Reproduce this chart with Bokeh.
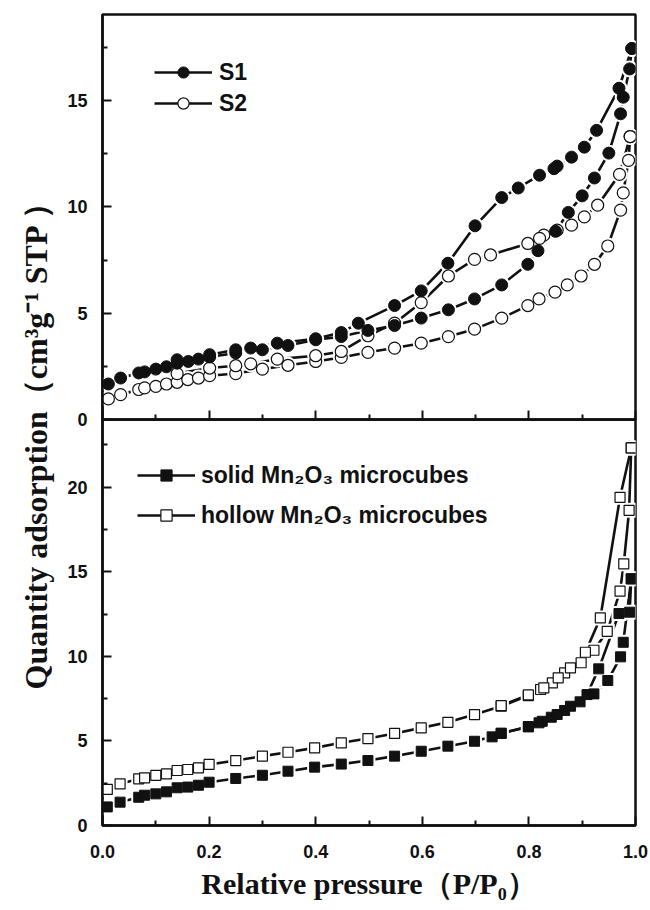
import math
from bokeh.plotting import figure
from bokeh.models import Range1d, FixedTicker, Legend, LegendItem, Label
from bokeh.layouts import row, column
from bokeh.embed import file_html
from bokeh.resources import INLINE

# ---------------- data ----------------
# Top panel: S1 (filled circles), S2 (open circles); adsorption + desorption branches
s1_ads_x = [0.011, 0.034, 0.068, 0.079, 0.100, 0.120, 0.140, 0.161, 0.180, 0.201, 0.250, 0.300, 0.348, 0.400,
            0.448, 0.498, 0.548, 0.598, 0.649, 0.698, 0.749, 0.798, 0.817, 0.850, 0.874, 0.900, 0.923, 0.950,
            0.972, 0.977, 0.989, 0.993]
s1_ads_y = [1.67, 1.95, 2.19, 2.24, 2.37, 2.48, 2.65, 2.73, 2.84, 2.94, 3.13, 3.28, 3.48, 3.75,
            3.90, 4.19, 4.42, 4.77, 5.16, 5.67, 6.33, 7.30, 7.94, 8.85, 9.74, 10.52, 11.36, 12.53,
            14.38, 15.16, 16.49, 17.45]
s1_des_x = [0.993, 0.969, 0.927, 0.904, 0.880, 0.853, 0.847, 0.820, 0.780, 0.749, 0.699, 0.648, 0.598,
            0.548, 0.480, 0.448, 0.400, 0.328, 0.278, 0.250, 0.201, 0.140]
s1_des_y = [17.45, 15.58, 13.60, 12.81, 12.34, 11.92, 11.80, 11.49, 10.89, 10.44, 9.11, 7.35, 6.05,
            5.36, 4.53, 4.09, 3.80, 3.59, 3.36, 3.28, 3.05, 2.81]

s2_ads_x = [0.011, 0.034, 0.068, 0.079, 0.100, 0.120, 0.140, 0.160, 0.180, 0.201, 0.250, 0.300, 0.348, 0.400,
            0.448, 0.498, 0.548, 0.598, 0.649, 0.698, 0.749, 0.798, 0.819, 0.849, 0.872, 0.898, 0.923, 0.948,
            0.972, 0.977, 0.987, 0.990]
s2_ads_y = [0.97, 1.17, 1.41, 1.49, 1.56, 1.67, 1.75, 1.88, 1.95, 2.06, 2.16, 2.37, 2.55, 2.73,
            2.92, 3.16, 3.36, 3.59, 3.90, 4.25, 4.77, 5.36, 5.67, 5.99, 6.33, 6.75, 7.30, 8.16,
            9.85, 10.66, 12.19, 13.31]
s2_des_x = [0.990, 0.970, 0.929, 0.904, 0.880, 0.853, 0.828, 0.820, 0.798, 0.728, 0.698, 0.649, 0.598,
            0.548, 0.498, 0.448, 0.400, 0.328, 0.278, 0.250, 0.201, 0.140]
s2_des_y = [13.31, 11.53, 10.08, 9.53, 9.14, 8.91, 8.67, 8.52, 8.28, 7.74, 7.53, 6.75, 5.50,
            4.53, 3.94, 3.20, 3.00, 2.84, 2.62, 2.53, 2.42, 2.16]

# Bottom panel: solid (filled squares) and hollow (open squares) Mn2O3 microcubes
solid_ads_x = [0.009, 0.033, 0.068, 0.079, 0.100, 0.120, 0.140, 0.160, 0.180, 0.200, 0.250, 0.300, 0.348,
               0.398, 0.448, 0.498, 0.548, 0.598, 0.648, 0.698, 0.731, 0.748, 0.799, 0.819, 0.842, 0.867,
               0.896, 0.922, 0.948, 0.972, 0.977, 0.992]
solid_ads_y = [1.10, 1.38, 1.67, 1.79, 1.87, 1.99, 2.23, 2.27, 2.38, 2.56, 2.78, 2.97, 3.21,
               3.45, 3.63, 3.84, 4.10, 4.39, 4.69, 4.98, 5.24, 5.46, 5.83, 6.07, 6.40, 6.80,
               7.31, 7.78, 8.57, 9.97, 10.83, 14.58]
solid_des_x = [0.992, 0.989, 0.969, 0.931, 0.909, 0.878, 0.853, 0.825, 0.799, 0.748]
solid_des_y = [14.58, 12.61, 12.53, 9.26, 7.74, 7.05, 6.56, 6.16, 5.85, 5.44]

hollow_ads_x = [0.009, 0.033, 0.068, 0.079, 0.100, 0.120, 0.140, 0.160, 0.180, 0.200, 0.250, 0.300, 0.348,
                0.398, 0.448, 0.498, 0.548, 0.598, 0.648, 0.698, 0.748, 0.799, 0.822, 0.844, 0.867, 0.898,
                0.922, 0.947, 0.971, 0.978, 0.988, 0.992]
hollow_ads_y = [2.13, 2.46, 2.76, 2.82, 2.96, 3.05, 3.25, 3.31, 3.41, 3.61, 3.84, 4.10, 4.33,
                4.59, 4.89, 5.14, 5.44, 5.77, 6.10, 6.56, 7.05, 7.68, 8.04, 8.43, 9.02, 9.62,
                10.36, 11.48, 13.85, 15.47, 18.63, 22.32]
hollow_des_x = [0.992, 0.971, 0.934, 0.906, 0.878, 0.855, 0.828, 0.799, 0.748]
hollow_des_y = [22.32, 19.40, 12.27, 10.24, 9.32, 8.73, 8.14, 7.72, 7.09]

x_ticks = [0.0, 0.2, 0.4, 0.6, 0.8, 1.0]
x_minor = [0.1, 0.3, 0.5, 0.7, 0.9]
top_ticks = [0, 5, 10, 15]
top_minor = [2.5, 7.5, 12.5, 17.5]
bot_ticks = [0, 5, 10, 15, 20]
bot_minor = [2.5, 7.5, 12.5, 17.5, 22.5]

# ---------------- style ----------------
INK = "#111111"
FRAME_W = 533
TOP_H = 405
BOT_H = 406
LEFT_B = 44
RIGHT_B = 14
TOP_B = 14
GAP_B = 12          # bottom border of the top figure (overlapped by the bottom figure)
BOT_B = 84
LAB_W = 58
TOTAL_H = TOP_B + TOP_H + BOT_H + BOT_B

TICK_FONT = "Liberation Sans"
SERIF = "Liberation Serif"
LW = 2.6


def style_axes(p, yticks, yminor, show_x_labels):
    p.grid.visible = False
    p.outline_line_color = INK
    p.outline_line_width = 2.5
    for ax in p.xaxis + p.yaxis:
        ax.axis_line_color = INK
        ax.axis_line_width = 2.5
        ax.major_tick_in = 9
        ax.major_tick_out = 0
        ax.minor_tick_in = 5
        ax.minor_tick_out = 0
        ax.major_tick_line_color = INK
        ax.minor_tick_line_color = INK
        ax.major_tick_line_width = 2
        ax.minor_tick_line_width = 2
        ax.major_label_text_font = TICK_FONT
        ax.major_label_text_font_style = "bold"
        ax.major_label_text_font_size = "18px"
        ax.major_label_text_color = INK
    p.xaxis.ticker = FixedTicker(ticks=x_ticks, minor_ticks=x_minor)
    p.xaxis.major_label_overrides = {0.0: "0.0", 1.0: "1.0"}
    p.yaxis.ticker = FixedTicker(ticks=yticks, minor_ticks=yminor)
    p.yaxis.major_label_standoff = 15
    if show_x_labels:
        p.xaxis.major_label_standoff = 19
    else:
        p.xaxis.major_label_text_color = None
        p.xaxis.major_label_text_alpha = 0
        p.xaxis.major_label_text_font_size = "1px"
        p.xaxis.major_label_standoff = 0


def make_legend(p, items, loc, gh, spacing, standoff):
    leg = Legend(items=items, location=loc, orientation="vertical",
                 glyph_width=58, glyph_height=gh, label_height=gh, label_standoff=standoff,
                 spacing=spacing, padding=0, margin=0,
                 label_text_font=TICK_FONT, label_text_font_style="bold",
                 label_text_font_size="23px", label_text_color=INK,
                 border_line_color=None, background_fill_alpha=0)
    p.add_layout(leg)


def series(p, xs, ys, marker, size, filled):
    """line through the points, a white halo under every symbol (gives the
    broken-line look of the original), then the symbols themselves"""
    ln = p.line(xs, ys, line_color=INK, line_width=LW)
    return ln


def halo(p, xs, ys, marker, size):
    p.scatter(xs, ys, marker=marker, size=size + 5, fill_color="white", line_color=None)


def symbols(p, xs, ys, marker, size, filled):
    if filled:
        return p.scatter(xs, ys, marker=marker, size=size, fill_color=INK, line_color=INK)
    return p.scatter(xs, ys, marker=marker, size=size, fill_color="white", line_color=INK, line_width=1.2)


# ---------------- top panel ----------------
top = figure(frame_width=FRAME_W, frame_height=TOP_H,
             x_range=Range1d(0, 1.0), y_range=Range1d(0, 19.05),
             output_backend="svg", toolbar_location=None,
             min_border_left=LEFT_B, min_border_right=RIGHT_B,
             min_border_top=TOP_B, min_border_bottom=GAP_B)
style_axes(top, top_ticks, top_minor, False)

top_sets = [(s2_ads_x, s2_ads_y, False), (s2_des_x, s2_des_y, False),
            (s1_ads_x, s1_ads_y, True), (s1_des_x, s1_des_y, True)]
top_lines = [series(top, xs, ys, "circle", 12, f) for xs, ys, f in top_sets]
for xs, ys, f in top_sets:
    halo(top, xs, ys, "circle", 12)
top_marks = [symbols(top, xs, ys, "circle", 12, f) for xs, ys, f in top_sets]

make_legend(top, [LegendItem(label="S1", renderers=[top_lines[2], top_marks[2]]),
                  LegendItem(label="S2", renderers=[top_lines[0], top_marks[0]])],
            (52, 302), 28, 3, 7)

# ---------------- bottom panel ----------------
bot = figure(frame_width=FRAME_W, frame_height=BOT_H,
             x_range=top.x_range, y_range=Range1d(0, 24.0),
             output_backend="svg", toolbar_location=None,
             min_border_left=LEFT_B, min_border_right=RIGHT_B,
             min_border_top=0, min_border_bottom=BOT_B)
bot.border_fill_color = None
bot.background_fill_color = None
bot.styles = {"margin-top": "-%dpx" % GAP_B}
style_axes(bot, bot_ticks, bot_minor, True)
bot.xaxis.axis_label = "Relative pressure（P/P₀）"
bot.xaxis.axis_label_text_font = SERIF
bot.xaxis.axis_label_text_font_style = "bold"
bot.xaxis.axis_label_text_font_size = "30px"
bot.xaxis.axis_label_text_color = INK
bot.xaxis.axis_label_standoff = 6

bot_sets = [(hollow_ads_x, hollow_ads_y, False), (hollow_des_x, hollow_des_y, False),
            (solid_ads_x, solid_ads_y, True), (solid_des_x, solid_des_y, True)]
bot_lines = [series(bot, xs, ys, "square", 10, f) for xs, ys, f in bot_sets]
for xs, ys, f in bot_sets:
    halo(bot, xs, ys, "square", 10)
bot_marks = [symbols(bot, xs, ys, "square", 10, f) for xs, ys, f in bot_sets]

make_legend(bot, [LegendItem(label="solid Mn₂O₃ microcubes", renderers=[bot_lines[2], bot_marks[2]]),
                  LegendItem(label="hollow Mn₂O₃ microcubes", renderers=[bot_lines[0], bot_marks[0]])],
            (35, 296), 28, 12, 6)

# ---------------- shared y-axis title ----------------
lab = figure(frame_width=LAB_W, frame_height=TOTAL_H,
             x_range=Range1d(0, LAB_W), y_range=Range1d(0, TOTAL_H),
             output_backend="svg", toolbar_location=None,
             x_axis_location=None, y_axis_location=None, min_border=0)
lab.grid.visible = False
lab.outline_line_color = None
lab.add_layout(Label(x=35, y=TOTAL_H - 437, text="Quantity adsorption（cm³g⁻¹ STP ）",
                     angle=math.pi / 2, text_align="center", text_baseline="middle",
                     text_font=SERIF, text_font_style="bold", text_font_size="32px",
                     text_color=INK))

layout = row(lab, column(top, bot))
open("out.html", "w").write(file_html(layout, INLINE))
